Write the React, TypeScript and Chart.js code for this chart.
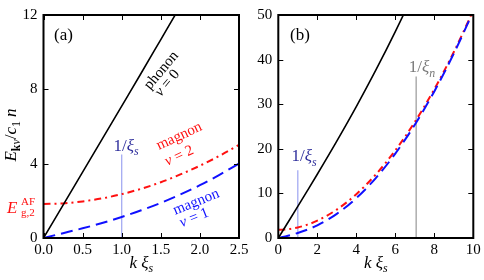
import React, { useEffect, useRef } from 'react';
import { Chart, registerables } from 'chart.js';
Chart.register(...registerables);

const FAM = '"Liberation Serif"';

// ---------- panel (a) ----------
const kA = [0, 0.25, 0.5, 0.75, 1.0, 1.25, 1.5, 1.75, 2.0, 2.25, 2.5];
const phononA = [0, 1.77, 3.54, 5.32, 7.10, 8.88, 10.68, 12.48, 14.30, 16.13, 17.98];
const magnon1A = [0, 0.26, 0.52, 0.81, 1.13, 1.49, 1.89, 2.34, 2.84, 3.40, 4.01];
const magnon2A = [1.83, 1.86, 1.97, 2.13, 2.36, 2.65, 3.00, 3.42, 3.89, 4.42, 5.01];
const xTicksA = [0, 0.5, 1, 1.5, 2, 2.5];
const yTicksA = [0, 4, 8, 12];

// ---------- panel (b) ----------
const kB = [0, 0.5, 1, 1.5, 2, 3, 4, 5, 6, 7, 8, 9, 10];
const phononB = [0, 3.54, 7.10, 10.68, 14.30, 21.72, 29.46, 37.62, 46.27, 55.49, 65.35, 75.92, 87.24];
const magnon1B = [0, 0.52, 1.13, 1.89, 2.84, 5.42, 8.94, 13.44, 18.92, 25.40, 32.87, 41.34, 50.79];
const magnon2B = [1.83, 1.97, 2.36, 3.00, 3.89, 6.37, 9.82, 14.24, 19.64, 26.01, 33.36, 41.69, 51.00];
const xTicksB = [0, 2, 4, 6, 8, 10];
const yTicksB = [0, 10, 20, 30, 40, 50];

// ---------- markers ----------
const xiS = 1.0;
const xiSTopA = 4.5;
const xiSTopB = 15.2;
const xiN = 7.07;
const xiNTopB = 36.2;
const gapAF = 1.83;

type Seg = { t: string; it?: boolean; bold?: boolean; sub?: boolean; sup?: boolean };

function segFont(s: Seg, size: number) {
  const sz = s.sub || s.sup ? size * 0.7 : size;
  return `${s.it ? 'italic ' : ''}${s.bold ? 'bold ' : ''}${sz}px ${FAM}`;
}

function measure(ctx: CanvasRenderingContext2D, segs: Seg[], size: number) {
  let w = 0;
  for (const s of segs) {
    ctx.font = segFont(s, size);
    w += ctx.measureText(s.t).width;
  }
  return w;
}

function drawRich(
  ctx: CanvasRenderingContext2D,
  segs: Seg[],
  x: number,
  y: number,
  size: number,
  color: string,
  rot = 0,
  baselineMode = false
) {
  ctx.save();
  ctx.translate(x, y);
  ctx.rotate((rot * Math.PI) / 180);
  ctx.fillStyle = color;
  ctx.textBaseline = 'alphabetic';
  ctx.textAlign = 'left';
  const w = measure(ctx, segs, size);
  let cx = -w / 2;
  const base = baselineMode ? 0 : size * 0.3;
  for (const s of segs) {
    ctx.font = segFont(s, size);
    const dy = s.sub ? size * 0.25 : s.sup ? -size * 0.4 : 0;
    ctx.fillText(s.t, cx, base + dy);
    cx += ctx.measureText(s.t).width;
  }
  ctx.restore();
}

function pts(xs: number[], ys: number[]) {
  return xs.map((v, i) => ({ x: v, y: ys[i] }));
}

function framePlugin(xt: number[], yt: number[], annotate: (ctx: CanvasRenderingContext2D, chart: any) => void) {
  return {
    id: 'frameAndText',
    afterDraw(chart: any) {
      const { ctx, chartArea: a } = chart;
      const x = chart.scales.x;
      const y = chart.scales.y;
      ctx.save();
      ctx.strokeStyle = '#000';
      ctx.lineWidth = 1;
      ctx.beginPath();
      for (const v of xt) {
        const p = Math.round(x.getPixelForValue(v)) + 0.5;
        ctx.moveTo(p, a.bottom);
        ctx.lineTo(p, a.bottom - 5);
        ctx.moveTo(p, a.top);
        ctx.lineTo(p, a.top + 5);
      }
      for (const v of yt) {
        const p = Math.round(y.getPixelForValue(v)) + 0.5;
        ctx.moveTo(a.left, p);
        ctx.lineTo(a.left + 5, p);
        ctx.moveTo(a.right, p);
        ctx.lineTo(a.right - 5, p);
      }
      ctx.stroke();
      ctx.lineWidth = 2;
      ctx.strokeRect(a.left, a.top, a.right - a.left, a.bottom - a.top);
      ctx.restore();
      annotate(ctx, chart);
    },
  };
}

function makeOptions(
  xr: [number, number],
  yr: [number, number],
  xt: number[],
  yt: number[],
  xfmt: (v: number) => string,
  pad: { left: number; right: number; top: number; bottom: number },
  yW: number
): any {
  const tickFont = { family: FAM, size: 15 };
  return {
    responsive: false,
    animation: false,
    events: [],
    layout: { padding: pad },
    plugins: { legend: { display: false }, tooltip: { enabled: false } },
    scales: {
      x: {
        type: 'linear',
        min: xr[0],
        max: xr[1],
        afterBuildTicks: (s: any) => {
          s.ticks = xt.map((v) => ({ value: v }));
        },
        afterFit: (s: any) => {
          s.height = 42;
        },
        grid: { display: false, drawTicks: false },
        border: { display: false },
        ticks: {
          padding: 3,
          color: '#000',
          font: tickFont,
          maxRotation: 0,
          autoSkip: false,
          callback: (v: any) => xfmt(Number(v)),
        },
      },
      y: {
        type: 'linear',
        min: yr[0],
        max: yr[1],
        afterBuildTicks: (s: any) => {
          s.ticks = yt.map((v) => ({ value: v }));
        },
        afterFit: (s: any) => {
          s.width = yW;
        },
        grid: { display: false, drawTicks: false },
        border: { display: false },
        ticks: {
          padding: 6,
          color: '#000',
          font: tickFont,
          autoSkip: false,
          callback: (v: any) => String(v),
        },
      },
    },
  };
}

const BLACK = '#000000';
const BLUE = '#1010ff';
const RED = '#ff1010';
const NAVY = '#2f2f9c';
const LIGHTBLUE = '#a4abf2';
const GREY = '#a0a0a0';
const GREYTEXT = '#7a7a7a';

function curve(data: any[], color: string, width: number, dash: number[] = []) {
  return {
    data,
    borderColor: color,
    borderWidth: width,
    borderDash: dash,
    pointRadius: 0,
    fill: false,
    cubicInterpolationMode: 'monotone',
  };
}

function axisTitleX(ctx: CanvasRenderingContext2D, cx: number) {
  drawRich(
    ctx,
    [{ t: 'k', it: true }, { t: ' ' }, { t: 'ξ', it: true }, { t: 's', it: true, sub: true }],
    cx,
    268,
    17,
    '#000',
    0,
    true
  );
}

export default function App() {
  const refA = useRef<HTMLCanvasElement>(null);
  const refB = useRef<HTMLCanvasElement>(null);

  useEffect(() => {
    Chart.defaults.font.family = FAM;

    const annotateA = (ctx: CanvasRenderingContext2D, chart: any) => {
      const x = chart.scales.x;
      const y = chart.scales.y;
      const px = (k: number) => x.getPixelForValue(k);
      const py = (e: number) => y.getPixelForValue(e);
      drawRich(ctx, [{ t: '(a)' }], px(0.256), py(10.94), 17, BLACK);
      drawRich(ctx, [{ t: 'phonon' }], px(1.503), py(9.04), 15, BLACK, -50);
      drawRich(ctx, [{ t: 'ν', it: true }, { t: ' = 0' }], px(1.579), py(8.35), 15, BLACK, -50);
      drawRich(ctx, [{ t: 'magnon' }], px(1.733), py(5.5), 15, RED, -25);
      drawRich(ctx, [{ t: 'ν', it: true }, { t: ' = 2' }], px(1.733), py(4.44), 15, RED, -25);
      drawRich(ctx, [{ t: 'magnon' }], px(1.95), py(1.96), 15, BLUE, -22);
      drawRich(ctx, [{ t: 'ν', it: true }, { t: ' = 1' }], px(1.925), py(1.11), 15, BLUE, -22);
      drawRich(ctx, [{ t: '1/' }, { t: 'ξ', it: true }, { t: 's', it: true, sub: true }], px(1.055), py(4.97), 17, NAVY);
      const gy = py(gapAF);
      ctx.save();
      ctx.fillStyle = RED;
      ctx.textBaseline = 'alphabetic';
      ctx.textAlign = 'left';
      ctx.font = `italic 17px ${FAM}`;
      ctx.fillText('E', 7, gy + 9.5);
      ctx.font = `11px ${FAM}`;
      ctx.fillText('AF', 21, gy + 1.5);
      ctx.fillText('g,2', 21, gy + 12);
      ctx.restore();
      axisTitleX(ctx, (chart.chartArea.left + chart.chartArea.right) / 2);
      drawRich(
        ctx,
        [
          { t: 'E', it: true },
          { t: 'k', bold: true, sub: true },
          { t: 'ν', it: true, sub: true },
          { t: '/' },
          { t: 'c', it: true },
          { t: '1', sub: true },
          { t: ' n', it: true },
        ],
        16,
        135,
        17,
        BLACK,
        -90,
        true
      );
    };

    const annotateB = (ctx: CanvasRenderingContext2D, chart: any) => {
      const x = chart.scales.x;
      const y = chart.scales.y;
      const px = (k: number) => x.getPixelForValue(k);
      const py = (e: number) => y.getPixelForValue(e);
      drawRich(ctx, [{ t: '(b)' }], px(1.113), py(45.6), 17, BLACK);
      drawRich(ctx, [{ t: '1/' }, { t: 'ξ', it: true }, { t: 's', it: true, sub: true }], px(1.318), py(18.3), 17, NAVY);
      drawRich(ctx, [{ t: '1/' }, { t: 'ξ', it: true }, { t: 'n', it: true, sub: true }], px(7.37), py(38.3), 17, GREYTEXT);
      axisTitleX(ctx, (chart.chartArea.left + chart.chartArea.right) / 2);
    };

    const chartA = new Chart(refA.current as HTMLCanvasElement, {
      type: 'line',
      data: {
        datasets: [
          curve(pts(kA, phononA), BLACK, 1.6),
          curve(pts(kA, magnon1A), BLUE, 2, [12, 6]),
          curve(pts(kA, magnon2A), RED, 2, [7, 4, 2, 4]),
          curve(pts([xiS, xiS], [0, xiSTopA]), LIGHTBLUE, 1.3),
        ] as any,
      },
      options: makeOptions(
        [0, 2.5],
        [0, 12],
        xTicksA,
        yTicksA,
        (v) => v.toFixed(1),
        { left: 0, right: 245, top: 11, bottom: 0 },
        43.5
      ),
      plugins: [framePlugin(xTicksA, yTicksA, annotateA)],
    } as any);

    const chartB = new Chart(refB.current as HTMLCanvasElement, {
      type: 'line',
      data: {
        datasets: [
          curve(pts(kB, phononB), BLACK, 1.6),
          curve(pts(kB, magnon1B), BLUE, 2, [12, 6]),
          curve(pts(kB, magnon2B), RED, 2, [7, 4, 2, 4]),
          curve(pts([xiS, xiS], [0, xiSTopB]), LIGHTBLUE, 1.3),
          curve(pts([xiN, xiN], [0, xiNTopB]), GREY, 1.3),
        ] as any,
      },
      options: makeOptions(
        [0, 10],
        [0, 50],
        xTicksB,
        yTicksB,
        (v) => String(v),
        { left: 248.3, right: 10.7, top: 11, bottom: 0 },
        30
      ),
      plugins: [framePlugin(xTicksB, yTicksB, annotateB)],
    } as any);

    let alive = true;
    const redraw = () => {
      if (!alive) return;
      chartA.update('none');
      chartB.update('none');
    };
    const fonts: any = (document as any).fonts;
    if (fonts && fonts.load) {
      Promise.all([
        fonts.load(`14px ${FAM}`, '0.5 phonon'),
        fonts.load(`italic 14px ${FAM}`, 'k ξ ν E'),
        fonts.load(`bold 14px ${FAM}`, 'k'),
      ])
        .then(redraw)
        .catch(redraw);
      if (fonts.ready) fonts.ready.then(redraw);
    }
    const timer = window.setTimeout(redraw, 300);

    return () => {
      alive = false;
      window.clearTimeout(timer);
      chartA.destroy();
      chartB.destroy();
    };
  }, []);

  const cs: React.CSSProperties = { position: 'absolute', left: 0, top: 0, width: 484, height: 280 };
  const warm: React.CSSProperties = { position: 'absolute', left: 0, top: 0, fontFamily: FAM, fontSize: 14, color: 'transparent', pointerEvents: 'none' };
  return (
    <div style={{ position: 'absolute', left: 0, top: 0, width: 484, height: 280, background: '#fff', overflow: 'hidden' }}>
      <div style={warm} aria-hidden="true">
        <span>0.5 phonon</span> <i>k ξ ν E</i> <b>k</b>
      </div>
      <canvas ref={refA} width={484} height={280} style={cs} />
      <canvas ref={refB} width={484} height={280} style={cs} />
    </div>
  );
}
